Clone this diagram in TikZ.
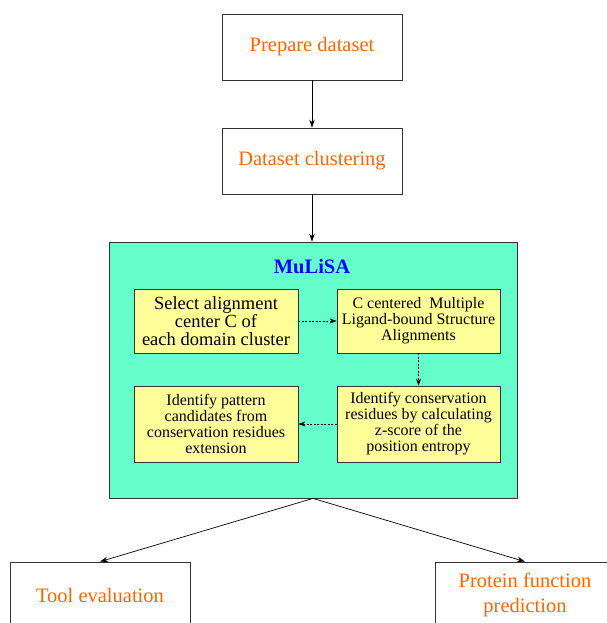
\documentclass[tikz,border=0pt]{standalone}
\usepackage{fontspec}
\setmainfont{Liberation Serif}
\usetikzlibrary{arrows.meta}
\definecolor{steporange}{RGB}{255,102,0}
\definecolor{mint}{RGB}{102,255,204}
\definecolor{paleyellow}{RGB}{255,255,153}
\definecolor{titleblue}{RGB}{0,0,255}

\begin{document}
\begin{tikzpicture}[x = 1pt, y = -1pt,
        outerbox/.style = {draw = black!80, line width = 0.8pt, minimum width = 180pt, minimum height = 66pt, inner sep = 0pt, text = steporange, align = center, font = \fontsize{20.5}{25}\selectfont},
        innerbox/.style = {draw = black!80, fill = paleyellow, line width = 0.8pt, inner sep = 0pt, align = center, font = \fontsize{16}{16}\selectfont},
        flow/.style = {-{Stealth[length = 8pt, width = 5.5pt]}, line width = 0.7pt},
        dflow/.style = {-{Stealth[length = 7pt, width = 5pt]}, line width = 0.7pt, dash pattern = on 2pt off 1.5pt}]
        \useasboundingbox (0,0) rectangle (606,623);

        \node [outerbox] (prep) at (312,47) {Prepare dataset};
        \node [outerbox] (clust) at (312,161) {Dataset clustering};

        \node [draw = black!80, fill = mint, line width = 0.8pt, minimum width = 408pt, minimum height = 256pt] (mulisa) at (313,370) {};
        \node [text = titleblue, font = \fontsize{20.5}{24}\selectfont\bfseries] (title) at (312,267) {MuLiSA};

        \node [innerbox, minimum width = 164pt, minimum height = 64pt, font = \fontsize{18.5}{18}\selectfont] (select) at (216,321) {Select alignment\\center C of\\each domain cluster};
        \node [innerbox, minimum width = 163pt, minimum height = 64pt] (ccma) at (418.5,321) {C centered\ \ Multiple\\Ligand-bound Structure\\Alignments};
        \node [innerbox, minimum width = 163pt, minimum height = 76pt] (cons) at (418.5,424) {Identify conservation\\residues by calculating\\z-score of the\\position entropy};
        \node [innerbox, minimum width = 164pt, minimum height = 76pt] (pattern) at (216,424) {Identify pattern\\candidates from\\conservation residues\\extension};

        \node [outerbox] (tool) at (100,595) {Tool evaluation};
        \node [outerbox] (protein) at (525,595) {Protein function\\prediction};

        \draw [flow] (prep) -- (clust);
        \draw [flow] (clust) -- (clust |- mulisa.north);

        \draw [dflow] (select) -- (ccma);
        \draw [dflow] (ccma) -- (cons);
        \draw [dflow] (cons) -- (pattern);

        \draw [flow] (mulisa.south) -- (tool.north);
        \draw [flow] (mulisa.south) -- (protein.north);
    \end{tikzpicture}
\end{document}
